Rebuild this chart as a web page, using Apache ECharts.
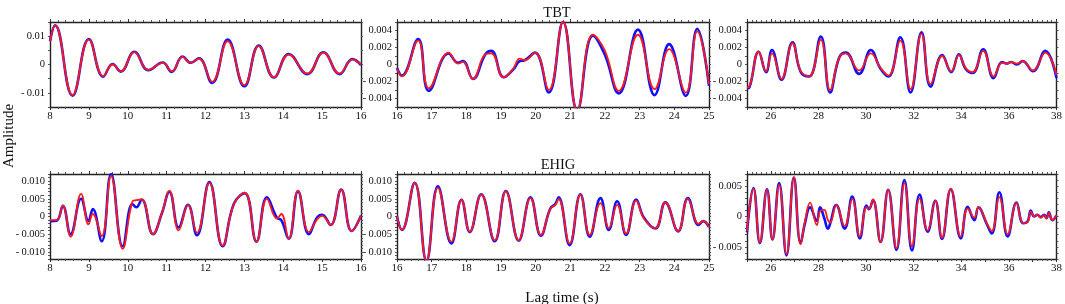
<!DOCTYPE html>
<html>
<head>
<meta charset="utf-8">
<script src="https://cdn.jsdelivr.net/npm/echarts@6/dist/echarts.min.js"></script>
<style>
  html, body { margin: 0; padding: 0; background: #fff; }
  #main { width: 1065px; height: 304px; }
</style>
</head>
<body>
<div id="main"></div>
<script>
// ---- TBT, 8-16 s ----
var tbtTime1 = [8.0, 8.13, 8.58, 9.0, 9.37, 9.61, 9.82, 10.17, 10.53, 10.9, 11.13, 11.41, 11.62, 11.83, 12.17, 12.57, 13.0, 13.37, 13.76, 14.14, 14.62, 15.03, 15.45, 15.78, 16.0];
var tbtRed1  = [0.0082, 0.0138, -0.0108, 0.0088, -0.0041, 0.0000, -0.0024, 0.0044, -0.0019, 0.0006, -0.0024, 0.0027, 0.0006, 0.0021, -0.0061, 0.0082, -0.0073, 0.0065, -0.0045, 0.0035, -0.0032, 0.0042, -0.0032, 0.0018, 0.0000];
var tbtBlue1 = [0.0082, 0.0138, -0.0110, 0.0090, -0.0043, 0.0002, -0.0025, 0.0045, -0.0020, 0.0007, -0.0026, 0.0028, 0.0006, 0.0022, -0.0065, 0.0088, -0.0077, 0.0067, -0.0046, 0.0037, -0.0034, 0.0043, -0.0034, 0.0019, -0.0002];

// ---- TBT, 16-25 s ----
var tbtTime2 = [16.0, 16.14, 16.61, 16.92, 17.49, 17.76, 17.9, 18.19, 18.55, 18.72, 19.08, 19.35, 19.54, 19.68, 19.98, 20.38, 20.79, 21.2, 21.65, 21.99, 22.4, 22.95, 23.43, 23.85, 24.33, 24.66, 25.0];
var tbtRed2  = [-0.0005, -0.0014, 0.0028, -0.0028, 0.0014, 0.0001, 0.0003, -0.0017, 0.0012, 0.0013, -0.0015, -0.0005, 0.0007, 0.0005, 0.0014, -0.0030, 0.0050, -0.0054, 0.0035, 0.0017, -0.0031, 0.0035, -0.0029, 0.0018, -0.0033, 0.0039, -0.0023];
var tbtBlue2 = [-0.0004, -0.0013, 0.0030, -0.0031, 0.0013, 0.0002, 0.0004, -0.0017, 0.0012, 0.0016, -0.0015, -0.0006, 0.0004, 0.0005, 0.0014, -0.0033, 0.0050, -0.0054, 0.0034, 0.0012, -0.0034, 0.0041, -0.0036, 0.0024, -0.0037, 0.0042, -0.0025];

// ---- TBT, 25-38 s ----
var tbtTime3 = [25.0, 25.1, 25.49, 25.8, 26.05, 26.45, 26.91, 27.26, 27.61, 28.1, 28.49, 28.87, 29.15, 29.71, 30.2, 30.61, 30.94, 31.44, 31.87, 32.33, 32.71, 33.2, 33.58, 33.9, 34.18, 34.48, 34.92, 35.36, 35.71, 35.92, 36.09, 36.34, 36.58, 37.01, 37.53, 38.0];
var tbtRed3  = [-0.0027, -0.0026, 0.0015, -0.0008, 0.0013, -0.0017, 0.0025, -0.0008, -0.0014, 0.0029, -0.0030, 0.0008, 0.0013, -0.0007, 0.0013, -0.0004, -0.0013, 0.0028, -0.0029, 0.0036, -0.0023, 0.0010, -0.0008, 0.0011, -0.0004, -0.0009, 0.0016, -0.0014, 0.0002, 0.0001, 0.0003, 0.0001, 0.0004, -0.0007, 0.0014, -0.0012];
var tbtBlue3 = [-0.0028, -0.0027, 0.0015, -0.0009, 0.0017, -0.0018, 0.0026, -0.0009, -0.0014, 0.0033, -0.0033, 0.0008, 0.0014, -0.0011, 0.0017, -0.0005, -0.0014, 0.0032, -0.0033, 0.0038, -0.0026, 0.0011, -0.0009, 0.0012, -0.0005, -0.0010, 0.0018, -0.0016, 0.0003, 0.0001, 0.0003, 0.0000, 0.0004, -0.0008, 0.0016, -0.0016];

// ---- EHIG, 8-16 s ----
var ehigTime1 = [8.0, 8.17, 8.33, 8.53, 8.8, 8.99, 9.1, 9.33, 9.57, 9.87, 10.12, 10.22, 10.36, 10.65, 10.88, 11.07, 11.31, 11.55, 11.78, 12.1, 12.44, 12.73, 13.01, 13.31, 13.58, 13.84, 13.95, 14.14, 14.38, 14.66, 14.87, 15.0, 15.22, 15.49, 15.76, 16.0];
var ehigRed1  = [-0.0010, -0.0010, 0.0030, -0.0057, 0.0064, -0.0022, 0.0007, -0.0055, 0.0114, -0.0091, 0.0042, 0.0046, 0.0048, -0.0050, 0.0011, 0.0073, -0.0039, 0.0032, -0.0046, 0.0095, -0.0082, 0.0035, 0.0067, -0.0070, 0.0050, -0.0006, 0.0007, -0.0063, 0.0073, -0.0044, -0.0008, 0.0002, -0.0024, 0.0076, -0.0041, 0.0002];
var ehigBlue1 = [-0.0013, -0.0012, 0.0030, -0.0050, 0.0050, -0.0012, 0.0021, -0.0070, 0.0120, -0.0084, 0.0035, 0.0026, 0.0048, -0.0050, 0.0010, 0.0070, -0.0031, 0.0033, -0.0053, 0.0097, -0.0084, 0.0036, 0.0066, -0.0071, 0.0054, -0.0004, -0.0010, -0.0063, 0.0071, -0.0050, -0.0003, 0.0005, -0.0024, 0.0076, -0.0041, 0.0003];

// ---- EHIG, 16-25 s ----
var ehigTime2 = [16.0, 16.14, 16.51, 16.85, 17.18, 17.57, 17.86, 18.1, 18.43, 18.82, 19.14, 19.51, 19.85, 20.15, 20.42, 20.57, 20.66, 20.98, 21.29, 21.56, 21.87, 22.11, 22.35, 22.61, 22.9, 23.12, 23.45, 23.74, 24.11, 24.39, 24.7, 24.83, 25.0];
var ehigRed2  = [0.0000, -0.0038, 0.0095, -0.0125, 0.0081, -0.0071, 0.0047, -0.0043, 0.0062, -0.0067, 0.0071, -0.0067, 0.0052, -0.0052, 0.0021, 0.0033, 0.0050, -0.0076, 0.0062, -0.0052, 0.0038, -0.0033, 0.0033, -0.0048, 0.0045, -0.0005, -0.0033, 0.0040, -0.0041, 0.0050, -0.0021, -0.0012, -0.0030];
var ehigBlue2 = [0.0000, -0.0038, 0.0095, -0.0125, 0.0085, -0.0076, 0.0047, -0.0044, 0.0063, -0.0070, 0.0072, -0.0068, 0.0054, -0.0054, 0.0022, 0.0036, 0.0054, -0.0081, 0.0063, -0.0057, 0.0052, -0.0038, 0.0043, -0.0052, 0.0048, -0.0003, -0.0034, 0.0040, -0.0042, 0.0052, -0.0024, -0.0013, -0.0030];

// ---- EHIG, 25-38 s ----
var ehigTime3 = [25.0, 25.27, 25.54, 25.84, 26.07, 26.35, 26.66, 26.97, 27.25, 27.44, 27.65, 27.93, 28.07, 28.24, 28.4, 28.49, 28.75, 29.1, 29.42, 29.74, 30.02, 30.12, 30.29, 30.61, 30.93, 31.28, 31.61, 31.93, 32.25, 32.59, 32.91, 33.19, 33.56, 33.98, 34.27, 34.55, 34.72, 35.07, 35.28, 35.6, 35.95, 36.32, 36.6, 36.79, 36.92, 37.06, 37.2, 37.34, 37.48, 37.58, 37.68, 37.82, 38.0];
var ehigRed3  = [-0.0024, 0.0046, -0.0043, 0.0044, -0.0038, 0.0052, -0.0062, 0.0065, -0.0046, -0.0007, 0.0023, -0.0014, 0.0009, 0.0011, -0.0006, -0.0010, 0.0019, -0.0016, 0.0029, -0.0033, 0.0015, 0.0013, 0.0028, -0.0042, 0.0044, -0.0052, 0.0055, -0.0049, 0.0030, -0.0023, 0.0026, -0.0035, 0.0046, -0.0033, 0.0013, -0.0002, 0.0015, -0.0011, -0.0024, 0.0032, -0.0029, 0.0022, -0.0011, -0.0009, 0.0008, 0.0000, 0.0003, -0.0002, 0.0002, -0.0003, 0.0006, -0.0006, 0.0002];
var ehigBlue3 = [-0.0026, 0.0047, -0.0044, 0.0045, -0.0038, 0.0055, -0.0064, 0.0064, -0.0044, -0.0010, 0.0015, -0.0007, 0.0015, -0.0002, -0.0020, -0.0012, 0.0019, -0.0020, 0.0033, -0.0036, 0.0018, 0.0012, 0.0027, -0.0042, 0.0044, -0.0055, 0.0060, -0.0056, 0.0036, -0.0025, 0.0026, -0.0037, 0.0045, -0.0036, 0.0016, -0.0006, 0.0015, -0.0012, -0.0028, 0.0040, -0.0033, 0.0023, -0.0011, -0.0008, 0.0010, 0.0000, 0.0003, -0.0001, 0.0003, -0.0003, 0.0007, -0.0006, 0.0002];

// axis ranges and tick labels
var xRanges = [[8, 16], [16, 25], [25, 38], [8, 16], [16, 25], [25, 38]];
var xLabelStep = [1, 1, 2, 1, 1, 2];
var yRanges = [0.015, 0.005, 0.005, 0.012, 0.012, 0.007];
var yStep = [0.005, 0.001, 0.001, 0.001, 0.001, 0.001];
var yTickLabels = [
    [-0.01, 0, 0.01],
    [-0.004, -0.002, 0, 0.002, 0.004],
    [-0.004, -0.002, 0, 0.002, 0.004],
    [-0.01, -0.005, 0, 0.005, 0.01],
    [-0.01, -0.005, 0, 0.005, 0.01],
    [-0.005, 0, 0.005]
];
var yDecimals = [2, 3, 3, 3, 3, 3];

var panels = [
    { t: tbtTime1, red: tbtRed1, blue: tbtBlue1 },
    { t: tbtTime2, red: tbtRed2, blue: tbtBlue2 },
    { t: tbtTime3, red: tbtRed3, blue: tbtBlue3 },
    { t: ehigTime1, red: ehigRed1, blue: ehigBlue1 },
    { t: ehigTime2, red: ehigRed2, blue: ehigBlue2 },
    { t: ehigTime3, red: ehigRed3, blue: ehigBlue3 }
];

var gridLeft = [50, 397, 747];
var gridWidth = [311, 312, 312];
var gridTop = [22, 174];
var gridHeight = 85;
var FONT = 'Liberation Serif';

var grids = [], xAxes = [], yAxes = [], series = [];

panels.forEach(function (p, i) {
    var col = i % 3, row = Math.floor(i / 3);
    grids.push({ left: gridLeft[col], top: gridTop[row], width: gridWidth[col], height: gridHeight });

    var lineStyle = { color: '#222', width: 1.4 };
    var xr = xRanges[i];
    // bottom x axis with labels
    xAxes.push({
        gridIndex: i, type: 'value', min: xr[0], max: xr[1], interval: 1,
        axisLine: { show: true, onZero: false, lineStyle: lineStyle },
        axisTick: { show: true, length: 3, lineStyle: { color: '#333' } },
        minorTick: { show: true, splitNumber: 5, length: 2, lineStyle: { color: '#555' } },
        splitLine: { show: false },
        axisLabel: {
            margin: 4, fontFamily: FONT, fontSize: 11, color: '#111',
            formatter: function (v) { return (v % xLabelStep[i] === 0) ? String(v) : ''; }
        }
    });
    // top frame
    xAxes.push({
        gridIndex: i, type: 'value', position: 'top', min: xr[0], max: xr[1], interval: 1,
        axisLine: { show: true, onZero: false, lineStyle: lineStyle },
        axisTick: { show: true, length: 3, lineStyle: { color: '#333' } },
        minorTick: { show: true, splitNumber: 5, length: 2, lineStyle: { color: '#555' } },
        splitLine: { show: false }, axisLabel: { show: false }
    });

    var yr = yRanges[i];
    var labels = yTickLabels[i];
    yAxes.push({
        gridIndex: i, type: 'value', min: -yr, max: yr, interval: yStep[i],
        axisLine: { show: true, onZero: false, lineStyle: lineStyle },
        axisTick: { show: true, length: 2, lineStyle: { color: '#555' } },
        splitLine: { show: false },
        axisLabel: {
            margin: 5, fontFamily: FONT, fontSize: 10.5, color: '#111',
            formatter: function (v) {
                var hit = labels.some(function (l) { return Math.abs(l - v) < 1e-9; });
                if (!hit) return '';
                if (Math.abs(v) < 1e-12) return '0';
                var s = Math.abs(v).toFixed(yDecimals[i]);
                return v < 0 ? '-\u2009' + s : s;
            }
        }
    });
    yAxes.push({
        gridIndex: i, type: 'value', position: 'right', min: -yr, max: yr, interval: yStep[i],
        axisLine: { show: true, onZero: false, lineStyle: lineStyle },
        axisTick: { show: true, length: 2, lineStyle: { color: '#555' } },
        splitLine: { show: false }, axisLabel: { show: false }
    });

    series.push({
        type: 'line', xAxisIndex: 2 * i, yAxisIndex: 2 * i, showSymbol: false, smooth: 0.45,
        clip: true, animation: false,
        lineStyle: { color: '#1010ff', width: 2.6 },
        data: p.t.map(function (t, k) { return [t, p.blue[k]]; })
    });
    series.push({
        type: 'line', xAxisIndex: 2 * i, yAxisIndex: 2 * i, showSymbol: false, smooth: 0.45,
        clip: true, animation: false,
        lineStyle: { color: '#ff1a1a', width: 1.8 },
        data: p.t.map(function (t, k) { return [t, p.red[k]]; })
    });
});

var myChart = echarts.init(document.getElementById('main'), null, { renderer: 'canvas' });
var option = {
    backgroundColor: '#fff',
    animation: false,
    title: [
        { text: 'TBT', left: 552, top: 1, textAlign: 'center', textStyle: { fontFamily: FONT, fontSize: 14.5, fontWeight: 'normal', color: '#111' } },
        { text: 'EHIG', left: 553, top: 153, textAlign: 'center', textStyle: { fontFamily: FONT, fontSize: 14.5, fontWeight: 'normal', color: '#111' } },
        { text: 'Lag time (s)', left: 557, top: 286, textAlign: 'center', textStyle: { fontFamily: FONT, fontSize: 15, fontWeight: 'normal', color: '#111' } }
    ],
    graphic: [{
        type: 'text', x: 9, y: 136, rotation: Math.PI / 2,
        style: { text: 'Amplitude', font: '15px "Liberation Serif"', fill: '#111', textAlign: 'center', textVerticalAlign: 'middle' }
    }],
    grid: grids,
    xAxis: xAxes,
    yAxis: yAxes,
    series: series
};
myChart.setOption(option);
</script>
</body>
</html>
